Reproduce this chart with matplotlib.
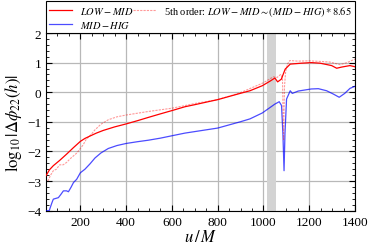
import numpy as np
import matplotlib
matplotlib.use("Agg")
import matplotlib.pyplot as plt

plt.rcParams['font.family'] = 'serif'
plt.rcParams['font.serif'] = ['Liberation Serif', 'DejaVu Serif']
plt.rcParams['mathtext.fontset'] = 'stix'

# LOW - MID
x_lm = [50, 65, 82, 110, 140, 170, 200, 220, 242, 270, 300, 350, 400, 450, 497, 550,
        600, 657, 700, 800, 898, 941, 995, 1030, 1050, 1062, 1078, 1095, 1117, 1165,
        1209, 1248, 1298, 1320, 1342, 1378, 1400]
y_lm = [-2.82, -2.62, -2.48, -2.3, -2.09, -1.87, -1.66, -1.56, -1.48, -1.38, -1.29,
        -1.17, -1.07, -0.96, -0.85, -0.73, -0.62, -0.49, -0.42, -0.25, -0.04, 0.05,
        0.22, 0.38, 0.48, 0.35, 0.44, 0.78, 0.95, 0.98, 1.0, 0.98, 0.90, 0.81, 0.85,
        0.90, 0.86]

# MID - HIG
x_mh = [52, 64, 75, 82, 95, 104, 115, 126, 140, 148, 160, 170, 184, 200, 220, 242,
        264, 290, 322, 360, 400, 450, 497, 550, 600, 657, 800, 898, 941, 995, 1050,
        1069, 1079, 1085, 1090, 1094, 1101, 1117, 1126, 1152, 1209, 1240, 1276, 1305,
        1331, 1355, 1378, 1400]
y_mh = [-4.0, -4.0, -3.75, -3.61, -3.58, -3.56, -3.45, -3.33, -3.33, -3.36, -3.2,
        -3.05, -2.94, -2.72, -2.6, -2.42, -2.22, -2.05, -1.9, -1.8, -1.73, -1.67,
        -1.62, -1.55, -1.47, -1.38, -1.21, -1.0, -0.9, -0.7, -0.4, -0.32, -0.45, -1.4,
        -2.65, -1.4, -0.23, 0.05, -0.04, 0.04, 0.11, 0.12, 0.05, -0.06, -0.17, -0.04,
        0.13, 0.2]

# 5th order estimate
x_5 = [58, 70, 82, 95, 110, 125, 140, 155, 170, 185, 200, 212, 225, 250, 264, 290,
       322, 360, 400, 497, 600, 657, 700, 800, 898, 1000, 1043, 1060, 1075, 1083,
       1088, 1092, 1097, 1105, 1115, 1150, 1200, 1250, 1290, 1335, 1365, 1400]
y_5 = [-3.0, -2.8, -2.65, -2.6, -2.45, -2.45, -2.37, -2.25, -2.15, -2.05, -1.9,
       -1.78, -1.6, -1.4, -1.27, -1.08, -0.93, -0.83, -0.77, -0.65, -0.54, -0.45,
       -0.38, -0.25, -0.02, 0.32, 0.52, 0.5, 0.6, 0.5, -1.6, 0.2, 0.7, 0.95, 1.07,
       1.05, 1.06, 1.04, 1.02, 0.93, 1.0, 1.12]

band = (1015, 1055)

fig = plt.figure(figsize=(3.74, 2.53), dpi=100)
ax = fig.add_axes([46/374, 1-211.7/253, 309/374, 177.7/253])

ax.axvspan(band[0], band[1], color='#d3d3d3', lw=0, zorder=1)
ax.plot(x_lm, y_lm, color='red', lw=0.9, label=r'$LOW-MID$', zorder=3)
ax.plot(x_mh, y_mh, color='blue', lw=0.9, alpha=0.7, label=r'$MID-HIG$', zorder=3)
ax.plot(x_5, y_5, color='red', lw=0.8, ls='--', alpha=0.4, dashes=(2, 1),
        label=r'5th order: $LOW-MID\sim(MID-HIG)*8.65$', zorder=3)

ax.set_xlim(50, 1400)
ax.set_ylim(-4, 2)
ax.set_xticks([200, 400, 600, 800, 1000, 1200, 1400])
ax.set_yticks([-4, -3, -2, -1, 0, 1, 2])
ax.set_xticks(np.arange(50, 1401, 50), minor=True)
ax.set_yticks(np.arange(-4, 2.01, 0.2), minor=True)
ax.tick_params(which='both', direction='in', top=True, right=True, labelsize=9.5)
ax.tick_params(which='major', length=4, width=0.8)
ax.tick_params(which='minor', length=2, width=0.6)
ax.grid(True, which='major', color='#b8b8b8', lw=0.9, zorder=0)
ax.set_axisbelow(True)

ax.set_xlabel(r'$u\,/\,M$', fontsize=12, labelpad=1)
ax.set_ylabel(r'$\log_{10}|\Delta\phi_{22}(h)|$', fontsize=12, labelpad=2)

leg = ax.legend(loc='lower left', bbox_to_anchor=(0, 1, 1, 27/177.7), mode='expand',
                ncol=2, borderaxespad=0, fontsize=7.5, fancybox=False,
                edgecolor='black', framealpha=1, handlelength=2.2,
                labelspacing=0.3, borderpad=0.3)
leg.get_frame().set_linewidth(0.8)

fig.savefig('out.png', dpi=100)
